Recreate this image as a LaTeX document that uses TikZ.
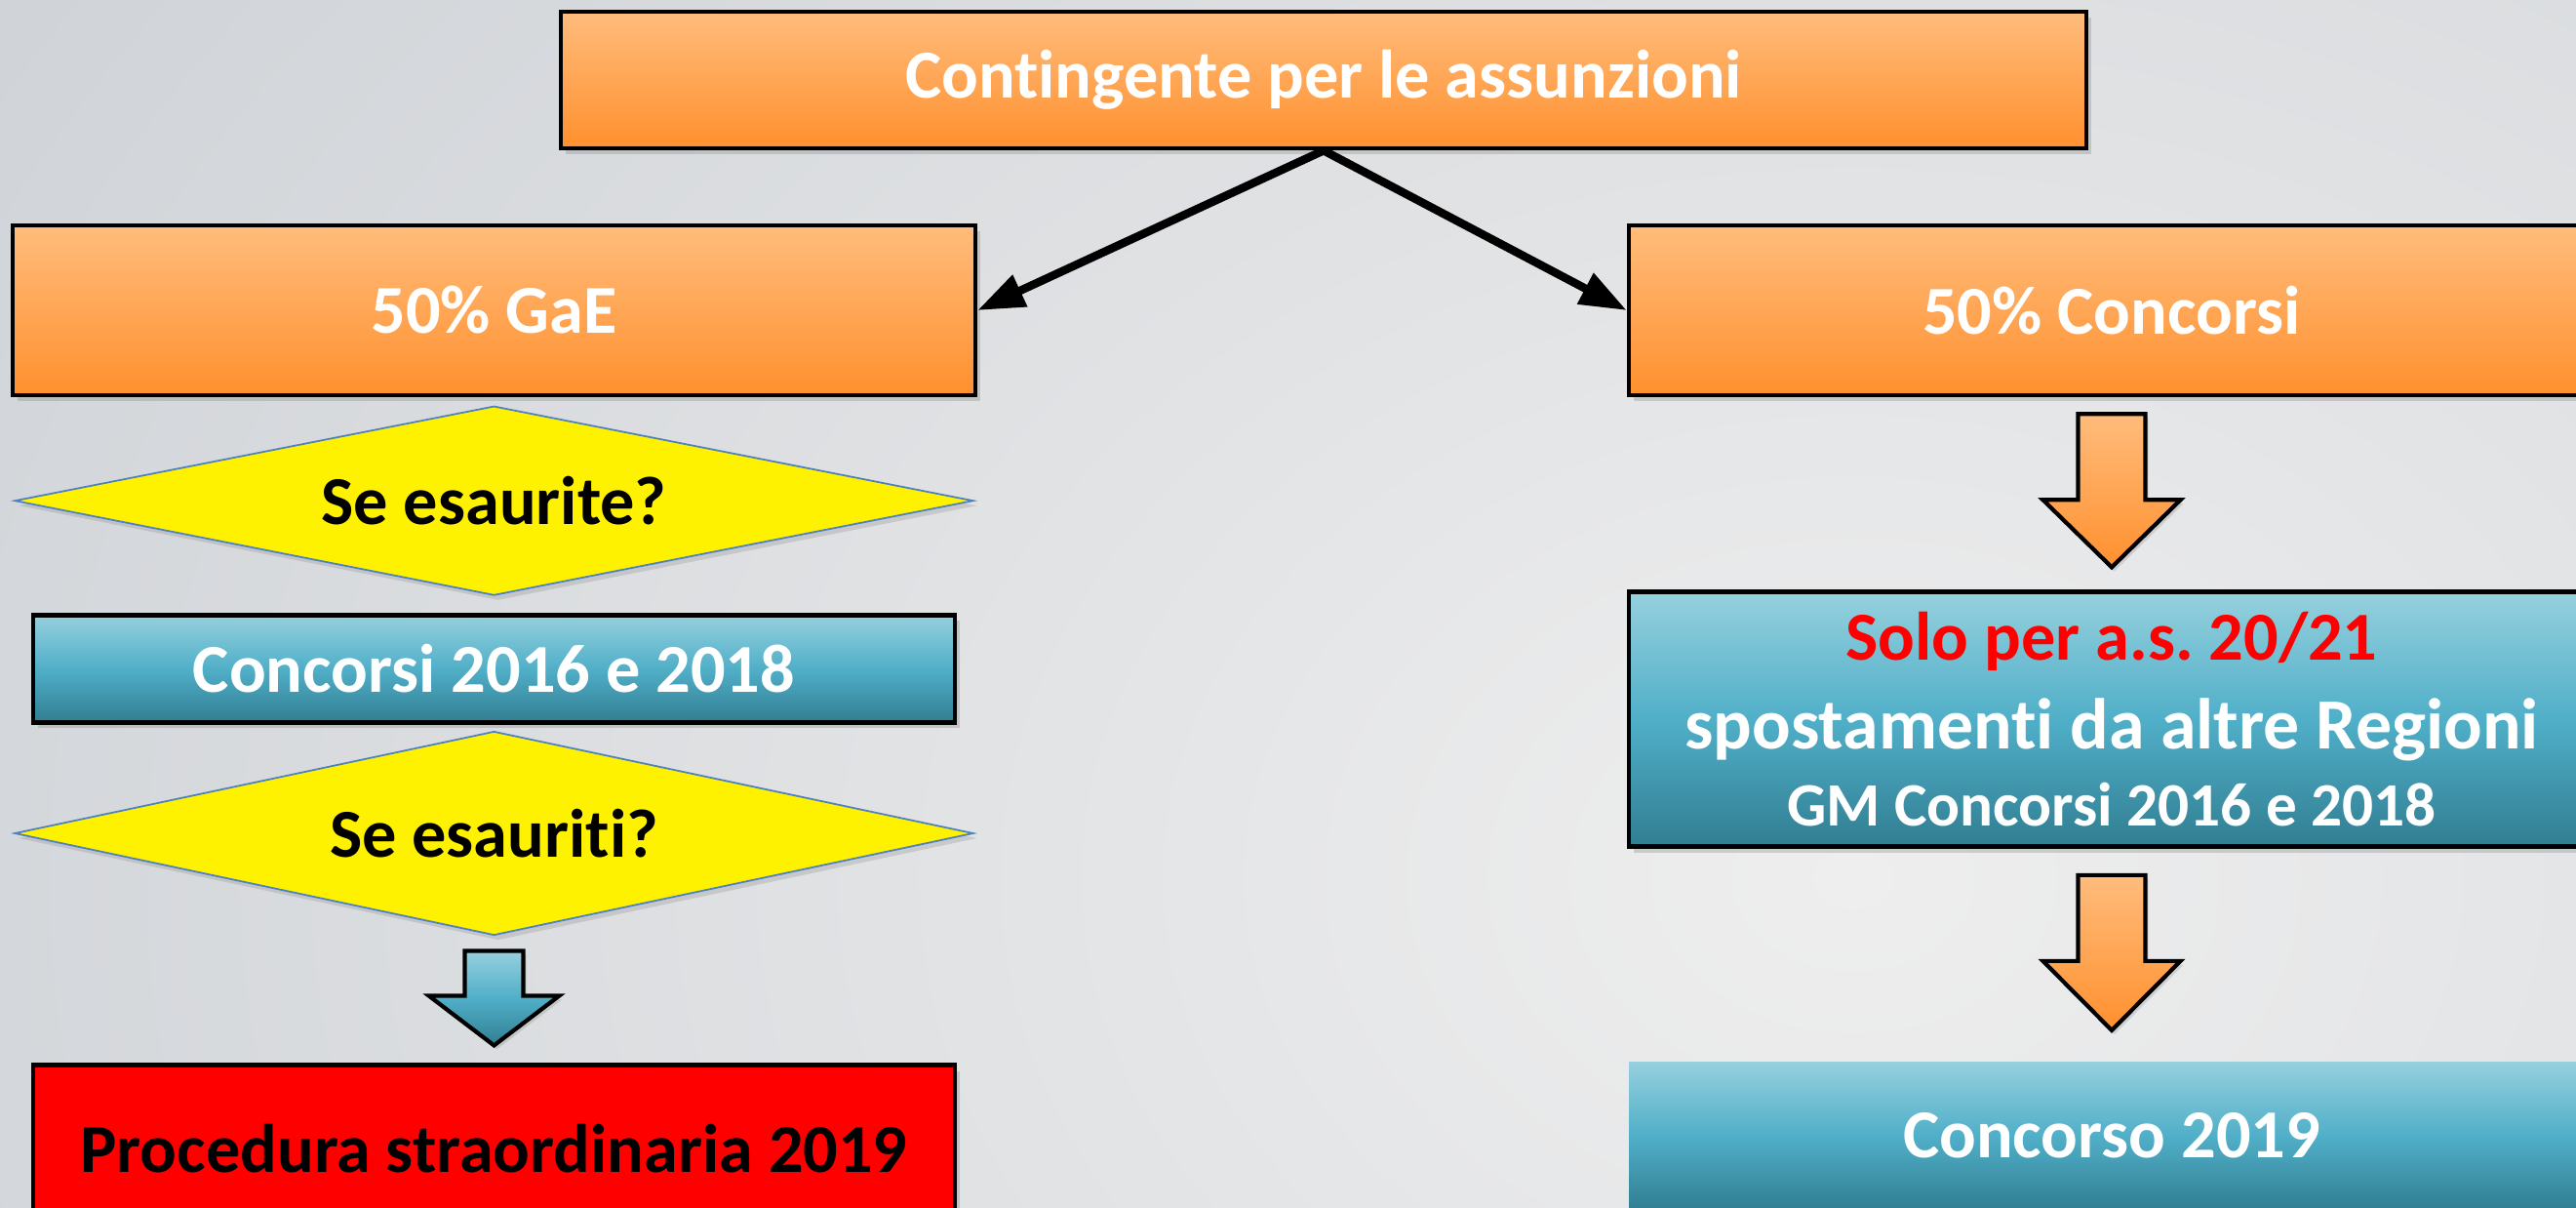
\documentclass[tikz,border=0pt]{standalone}
\usepackage{fontspec}
\setmainfont{Carlito}[Ligatures={NoCommon}]
\usetikzlibrary{arrows.meta, positioning, shapes.geometric, shadows, calc}
\definecolor{orgtop}{RGB}{255,188,124}
\definecolor{orgbot}{RGB}{255,144,46}
\definecolor{aqtop}{RGB}{150,208,222}
\definecolor{aqmid}{RGB}{80,175,200}
\definecolor{aqbot}{RGB}{49,126,146}
\definecolor{diaedge}{RGB}{79,129,189}
\definecolor{bgin}{RGB}{238,238,238}
\definecolor{bgout}{RGB}{204,208,213}
\frenchspacing

% block arrow: top point, shaft half width, head half width, head start, length, style
\newcommand{\blockarrow}[6]{%
  \path[#6] ($#1+(-#2,0)$) -- ($#1+(#2,0)$) -- ($#1+(#2,-#4)$) -- ($#1+(#3,-#4)$)
    -- ($#1+(0,-#5)$) -- ($#1+(-#3,-#4)$) -- ($#1+(-#2,-#4)$) -- cycle;}

\begin{document}
\begin{tikzpicture}[font=\bfseries\fontsize{20}{26}\selectfont,
  shade box/.style={drop shadow={opacity=0.3, shadow xshift=0.05cm, shadow yshift=-0.06cm}},
  orgbox/.style={shade box, draw=black, line width=1.3pt, top color=orgtop, bottom color=orgbot, text=white, align=center},
  aqbox/.style={shade box, draw=black, line width=1.3pt, top color=aqtop, bottom color=aqbot, middle color=aqmid, text=white, align=center},
  redbox/.style={shade box, draw=black, line width=1.3pt, fill=red, text=black, align=center},
  choice/.style={diamond, draw=diaedge, line width=0.5pt, fill=yellow, inner sep=0pt, drop shadow={opacity=0.25, shadow xshift=0.04cm, shadow yshift=-0.05cm}},
  link/.style={line width=2.4pt, -{Triangle[length=0.48cm, width=0.34cm]}},
  orgarrow/.style={draw=black, line width=1.2pt, top color=orgtop, bottom color=orgbot, drop shadow={opacity=0.25, shadow xshift=0.03cm, shadow yshift=-0.04cm}},
  aqarrow/.style={draw=black, line width=1.2pt, top color=aqtop, bottom color=aqbot, middle color=aqmid, drop shadow={opacity=0.25, shadow xshift=0.03cm, shadow yshift=-0.04cm}}]
  \clip (0,0) rectangle (26.41,-12.37);
  \shade[inner color=bgin, outer color=bgout] (-6,10) rectangle (44,-28);
  \useasboundingbox (0,0) rectangle (26.41,-12.37);

  \node[orgbox, minimum width=15.64cm, minimum height=1.40cm] (top) at (13.57,-0.82) {Contingente per le assunzioni};
  \node[orgbox, minimum width=9.87cm, minimum height=1.74cm] (gae) at (5.065,-3.18) {50\% GaE};
  \node[orgbox, minimum width=9.90cm, minimum height=1.74cm] (conc) at (21.65,-3.18) {50\% Concorsi};

  % left column
  \node[choice, aspect=5.07, minimum width=9.83cm, minimum height=1.94cm, below=0.08cm of gae] (dia1) {Se esaurite?};
  \node[aqbox, minimum width=9.45cm, minimum height=1.10cm, below=0.17cm of dia1] (c1618) {Concorsi 2016 e 2018};
  \node[choice, aspect=4.7, minimum width=9.83cm, minimum height=2.09cm, below=0.06cm of c1618] (dia2) {Se esauriti?};
  \node[redbox, minimum width=9.45cm, minimum height=1.70cm, below=1.30cm of dia2] (proc) {Procedura straordinaria 2019};

  % right column
  \node[aqbox, minimum width=9.90cm, minimum height=2.61cm, below=1.97cm of conc] (solo)
    {{\color{red}Solo per a.s. 20/21}\\
     {\fontsize{21}{26}\selectfont spostamenti da altre Regioni}\\[-0.12cm]
     {\fontsize{18}{22}\selectfont GM Concorsi 2016 e 2018}};
  \node[aqbox, draw=none, minimum width=9.90cm, minimum height=1.52cm, below=2.16cm of solo] (c2019) {Concorso 2019};

  \draw[link] (top.south) -- (gae.east);
  \draw[link] (top.south) -- (conc.west);

  \coordinate (a1) at ($(conc.south)+(0,-0.17)$);
  \coordinate (a2) at ($(solo.south)+(0,-0.27)$);
  \coordinate (a3) at ($(dia2.south)+(0,-0.15)$);
  \blockarrow{(a1)}{0.345}{0.705}{0.88}{1.57}{orgarrow}
  \blockarrow{(a2)}{0.345}{0.705}{0.88}{1.59}{orgarrow}
  \blockarrow{(a3)}{0.30}{0.67}{0.46}{0.97}{aqarrow}
\end{tikzpicture}
\end{document}
